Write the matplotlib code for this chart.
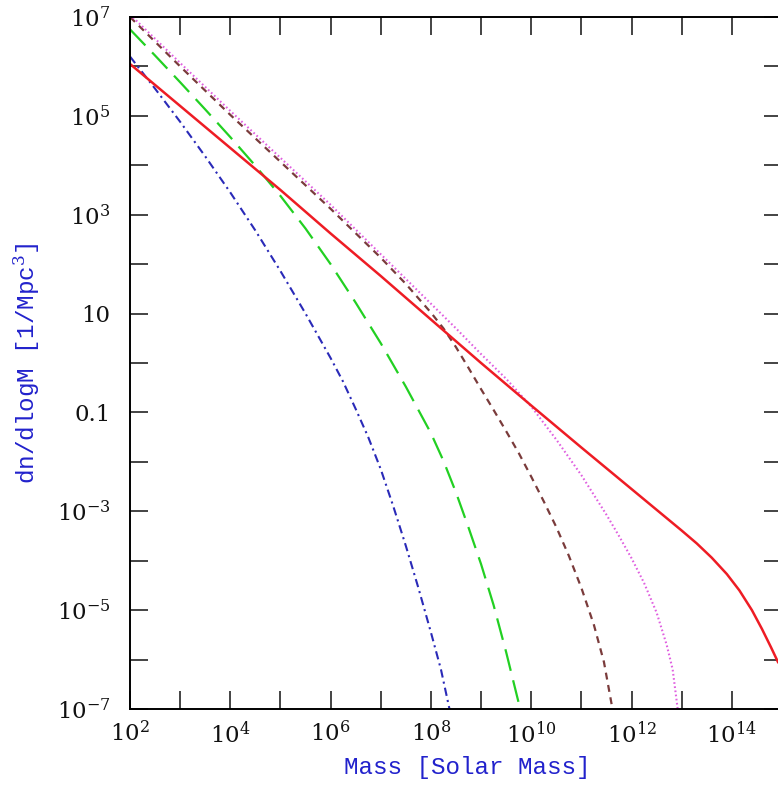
import numpy as np
import matplotlib as mpl
import matplotlib.pyplot as plt
from matplotlib.ticker import FixedLocator, FixedFormatter
mpl.use('Agg')

# log10(M) / log10(dn/dlogM)
red_logm = [2, 3, 4, 5, 6, 7, 8, 9, 10, 11, 12, 12.5, 13, 13.3, 13.6, 13.9, 14.15, 14.4, 14.6, 14.78, 14.92]
red_logn = [6.05, 5.2, 4.35, 3.5, 2.62, 1.76, 0.88, 0.0, -0.86, -1.71, -2.55, -2.97, -3.39, -3.65,
            -3.94, -4.27, -4.6, -5.0, -5.38, -5.75, -6.05]

brown_logm = [2, 3, 4, 5, 6, 7, 7.5, 8, 8.25, 8.5, 8.75, 9, 9.25, 9.5, 9.75, 10, 10.25, 10.5,
              10.75, 11, 11.25, 11.45, 11.62]
brown_logn = [7.0, 6.0, 5.02, 4.07, 3.12, 2.13, 1.6, 1.02, 0.7, 0.32, -0.1, -0.53, -0.95, -1.38,
              -1.82, -2.3, -2.8, -3.32, -3.9, -4.55, -5.3, -6.05, -7.0]

magenta_logm = [2, 3, 4, 5, 6, 7, 8, 8.5, 9, 9.5, 10, 10.5, 11, 11.5, 11.75, 12, 12.25, 12.5,
                12.7, 12.82, 12.92]
magenta_logn = [7.05, 6.07, 5.1, 4.15, 3.2, 2.2, 1.2, 0.7, 0.18, -0.32, -0.88, -1.55, -2.27, -3.07,
                -3.5, -3.95, -4.45, -5.05, -5.7, -6.2, -7.0]

green_logm = [2, 2.5, 3, 3.5, 4, 4.5, 5, 5.5, 6, 6.5, 7, 7.5, 8, 8.25, 8.5, 8.75, 9, 9.25, 9.5, 9.78]
green_logn = [6.75, 6.22, 5.68, 5.13, 4.57, 3.99, 3.38, 2.72, 2.0, 1.22, 0.4, -0.48, -1.42, -1.98,
              -2.62, -3.33, -4.07, -4.9, -5.85, -7.0]

blue_logm = [2, 2.5, 3, 3.5, 4, 4.5, 5, 5.5, 6, 6.25, 6.5, 6.75, 7, 7.25, 7.5, 7.75, 8, 8.2, 8.37]
blue_logn = [6.2, 5.55, 4.88, 4.18, 3.45, 2.68, 1.86, 1.0, 0.1, -0.38, -0.93, -1.5, -2.15, -2.9,
             -3.7, -4.55, -5.45, -6.2, -7.0]

xtick_exp = list(range(2, 16))
xtick_labels = ['$10^{%d}$' % e if e % 2 == 0 else '' for e in xtick_exp]
ytick_exp = list(range(-7, 8))
ylab = {7: '$10^{7}$', 5: '$10^{5}$', 3: '$10^{3}$', 1: '10', -1: '0.1',
        -3: '$10^{-3}$', -5: '$10^{-5}$', -7: '$10^{-7}$'}
ytick_labels = [ylab.get(e, '') for e in ytick_exp]

plt.rcParams['font.family'] = 'DejaVu Serif'
plt.rcParams['mathtext.fontset'] = 'dejavuserif'
plt.rcParams['lines.scale_dashes'] = False

fig = plt.figure(figsize=(7.78, 7.88), dpi=100)
ax = fig.add_axes([130/778, 79/788, 652/778, 692/788])

def p(lm, ln):
    return 10**np.array(lm, float), 10**np.array(ln, float)

ax.plot(*p(blue_logm, blue_logn), color='#2a2ab8', lw=1.5, ls=(0, (6, 3, 1.5, 3)))
ax.plot(*p(green_logm, green_logn), color='#22d022', lw=1.6, ls=(0, (16, 7)))
ax.plot(*p(brown_logm, brown_logn), color='#7a3b3b', lw=1.6, ls=(0, (5, 4)))
ax.plot(*p(magenta_logm, magenta_logn), color='#e060e0', lw=1.5, ls=(0, (1.2, 1.8)))
ax.plot(*p(red_logm, red_logn), color='#ee1c24', lw=1.8)

ax.set_xscale('log')
ax.set_yscale('log')
ax.set_xlim(1e2, 1e15)
ax.set_ylim(1e-7, 1e7)

ax.xaxis.set_major_locator(FixedLocator([10.0**e for e in xtick_exp]))
ax.xaxis.set_major_formatter(FixedFormatter(xtick_labels))
ax.yaxis.set_major_locator(FixedLocator([10.0**e for e in ytick_exp]))
ax.yaxis.set_major_formatter(FixedFormatter(ytick_labels))
ax.xaxis.set_minor_locator(FixedLocator([]))
ax.yaxis.set_minor_locator(FixedLocator([]))
ax.tick_params(which='major', direction='in', length=13, width=1.1,
               top=True, right=True, labelsize=16.5, colors='#111111')
ax.tick_params(axis='x', pad=9)
ax.tick_params(axis='y', pad=14)
for s in ax.spines.values():
    s.set_linewidth(1.4)

lab_font = dict(family='Liberation Mono', size=17.5, color='#2222cc')
ax.set_xlabel('Mass [Solar Mass]', **lab_font)
ax.set_ylabel('dn/dlogM [1/Mpc$^3$]', **lab_font)
ax.xaxis.set_label_coords(0.517, -0.068)
ax.yaxis.set_label_coords(-0.135, 0.5)

fig.savefig('out.png', dpi=100)
